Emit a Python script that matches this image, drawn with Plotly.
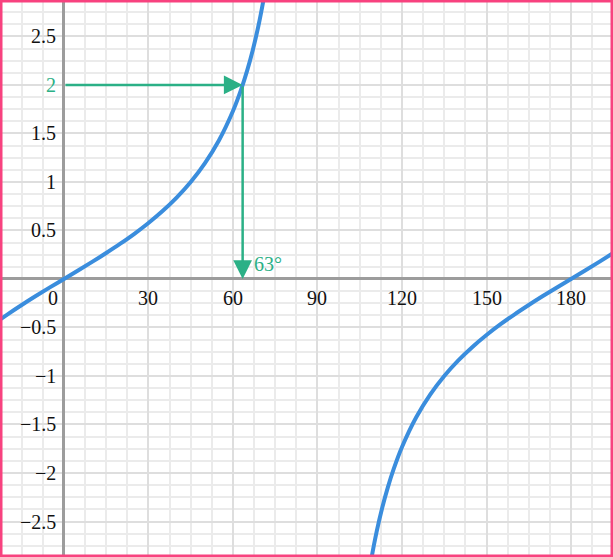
import plotly.graph_objects as go

# Sample points (degrees -> value)
branch1_x = [-25, -20, -15, -10, -5, 0, 5, 10, 15, 20, 25, 30, 35, 40, 45, 50, 55, 60, 63, 65, 67, 69, 71, 72]
branch1_y = [-0.466, -0.364, -0.268, -0.176, -0.087, 0, 0.087, 0.176, 0.268, 0.364, 0.466, 0.577, 0.700,
             0.839, 1.0, 1.192, 1.428, 1.732, 1.963, 2.145, 2.356, 2.605, 2.904, 3.078]
branch2_x = [108, 109, 111, 113, 115, 117, 120, 125, 130, 135, 140, 145, 150, 155, 160, 165, 170, 175,
             180, 185, 190, 195, 200]
branch2_y = [-3.078, -2.904, -2.605, -2.356, -2.145, -1.963, -1.732, -1.428, -1.192, -1.0, -0.839, -0.700,
             -0.577, -0.466, -0.364, -0.268, -0.176, -0.087, 0, 0.087, 0.176, 0.268, 0.364]

x_ticks = [30, 60, 90, 120, 150, 180]
y_ticks = [-2.5, -2, -1.5, -1, -0.5, 0.5, 1, 1.5, 2.5]
y_tick_labels = ["\u22122.5", "\u22122", "\u22121.5", "\u22121", "\u22120.5", "0.5", "1", "1.5", "2.5"]

target_value = 2
angle = 63.43
angle_label = "63°"

blue = "#3a8ddd"
green = "#2bb086"
pink = "#f8427f"
font = "Liberation Serif"
fs = 20

fig = go.Figure()
for bx, by in [(branch1_x, branch1_y), (branch2_x, branch2_y)]:
    fig.add_trace(go.Scatter(x=bx, y=by, mode="lines", line=dict(color=blue, width=4, shape="spline"),
                             hoverinfo="skip", showlegend=False))

annotations = []
for t in x_ticks:
    annotations.append(dict(x=t, y=-0.2, text=str(t), showarrow=False, xref="x", yref="y",
                            font=dict(family=font, size=fs, color="#111")))
annotations.append(dict(x=-1.5, y=-0.2, text="0", showarrow=False, xanchor="right",
                        font=dict(family=font, size=fs, color="#111")))
for v, lab in zip(y_ticks, y_tick_labels):
    annotations.append(dict(x=-2, y=v, text=lab, showarrow=False, xanchor="right",
                            font=dict(family=font, size=fs, color="#111")))
annotations.append(dict(x=-2, y=target_value, text=str(target_value), showarrow=False, xanchor="right",
                        font=dict(family=font, size=fs, color=green)))
annotations.append(dict(x=angle + 3.2, y=0.15, text=angle_label, showarrow=False, xanchor="left",
                        font=dict(family=font, size=fs, color=green)))
# arrows
annotations.append(dict(x=angle, y=target_value, ax=0, ay=target_value, xref="x", yref="y",
                        axref="x", ayref="y", text="", showarrow=True, arrowhead=2, arrowsize=1.5,
                        arrowwidth=2.5, arrowcolor=green, standoff=0))
annotations.append(dict(x=angle, y=0, ax=angle, ay=target_value, xref="x", yref="y",
                        axref="x", ayref="y", text="", showarrow=True, arrowhead=2, arrowsize=1.5,
                        arrowwidth=2.5, arrowcolor=green, standoff=0))

fig.update_layout(
    width=613, height=557,
    margin=dict(l=0, r=0, t=0, b=0),
    paper_bgcolor="white", plot_bgcolor="white",
    annotations=annotations,
    xaxis=dict(range=[-22.7, 194.9], tick0=0, dtick=30, showticklabels=False, ticks="",
               showgrid=True, gridcolor="#dedede", gridwidth=2,
               minor=dict(dtick=7.5, tick0=0, showgrid=True, gridcolor="#ebebeb", gridwidth=1.5),
               zeroline=True, zerolinecolor="#9c9c9c", zerolinewidth=2.5, fixedrange=True),
    yaxis=dict(range=[-2.866, 2.876], tick0=0, dtick=0.5, showticklabels=False, ticks="",
               showgrid=True, gridcolor="#dedede", gridwidth=2,
               minor=dict(dtick=0.125, tick0=0, showgrid=True, gridcolor="#ebebeb", gridwidth=1.5),
               zeroline=True, zerolinecolor="#9c9c9c", zerolinewidth=2.5, fixedrange=True),
    shapes=[dict(type="rect", xref="paper", yref="paper", x0=0, y0=0, x1=1, y1=1,
                 line=dict(color=pink, width=5), layer="above")],
)

fig.write_html("out.html", config={"displayModeBar": False},
               post_script="document.body.style.margin='0';document.body.style.overflow='hidden';")
